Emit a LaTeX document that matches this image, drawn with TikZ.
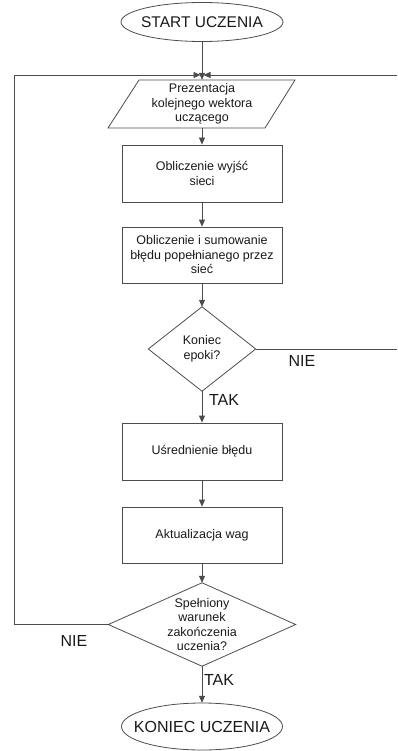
\documentclass[tikz,border=0pt]{standalone}
\usepackage{fontspec}
\setmainfont{Liberation Sans}
\usetikzlibrary{arrows.meta}
\begin{document}
\begin{tikzpicture}[x=1pt,y=-1pt,
  line/.style={draw=black!70, line width=0.8pt},
  arr/.style={line, -{Triangle[length=7pt,width=6pt]}},
  txt/.style={text=black!90, font=\fontsize{12.5}{14.5}\selectfont, align=center, inner sep=0pt},
  boxn/.style={txt, draw=black!70, line width=0.8pt, minimum width=160pt, minimum height=57pt},
  lbl/.style={text=black!90, font=\fontsize{16}{18}\selectfont, inner sep=0pt},
]
\useasboundingbox (0,0) rectangle (397,751);

\node[txt, minimum width=162pt, minimum height=39pt] (start) at (202,22) {\fontsize{15.5}{18}\selectfont START UCZENIA};
\draw[line] (start.center) ellipse [x radius=81pt, y radius=19.5pt];

\node[txt, minimum width=157pt, minimum height=48pt] (prez) at (202,104) {Prezentacja\\kolejnego wektora\\uczącego};
\draw[line] (139,80) -- (295,80) -- (265,128) -- (108,128) -- cycle;

\node[boxn] (b1) at (202,173.5) {Obliczenie wyjść\\sieci};
\node[boxn, minimum height=56pt] (b2) at (202,255) {Obliczenie i sumowanie\\błędu popełnianego przez\\sieć};

\node[txt, minimum width=107pt, minimum height=84pt] (d1) at (202,349) {Koniec\\epoki?};
\draw[line] (d1.north) -- (d1.east) -- (d1.south) -- (d1.west) -- cycle;

\node[boxn] (b3) at (202,451.5) {Uśrednienie błędu};
\node[boxn, minimum height=56pt] (b4) at (202,535) {Aktualizacja wag};

\node[txt, minimum width=187pt, minimum height=83pt] (d2) at (202,624.5) {Spełniony\\warunek\\zakończenia\\uczenia?};
\draw[line] (d2.north) -- (d2.east) -- (d2.south) -- (d2.west) -- cycle;

\node[txt, minimum width=161pt, minimum height=47pt] (end) at (202,726.5) {\fontsize{16}{18}\selectfont KONIEC UCZENIA};
\draw[line] (end.center) ellipse [x radius=80.5pt, y radius=23.5pt];

\coordinate (m) at (202,75);
\coordinate (rt) at (397,75);
\coordinate (rb) at (397,349);
\coordinate (lb) at (14,624.5);
\coordinate (lt) at (14,75);

\draw[arr] (start) -- (prez);
\draw[arr] (prez) -- (b1);
\draw[arr] (b1) -- (b2);
\draw[arr] (b2) -- (d1);
\draw[arr] (d1) -- (b3);
\draw[arr] (b3) -- (b4);
\draw[arr] (b4) -- (d2);
\draw[arr] (d2) -- (end);
\draw[line] (d1.east) -- (rb);
\draw[arr, shorten >=1.5pt] (rt) -- (m);
\draw[arr, shorten >=1.5pt] (d2.west) -- (lb) -- (lt) -- (m);

\node[lbl] (nie1) at (302,361) {NIE};
\node[lbl] (tak1) at (224,400) {TAK};
\node[lbl] (nie2) at (74,641) {NIE};
\node[lbl] (tak2) at (219,680) {TAK};
\end{tikzpicture}
\end{document}
